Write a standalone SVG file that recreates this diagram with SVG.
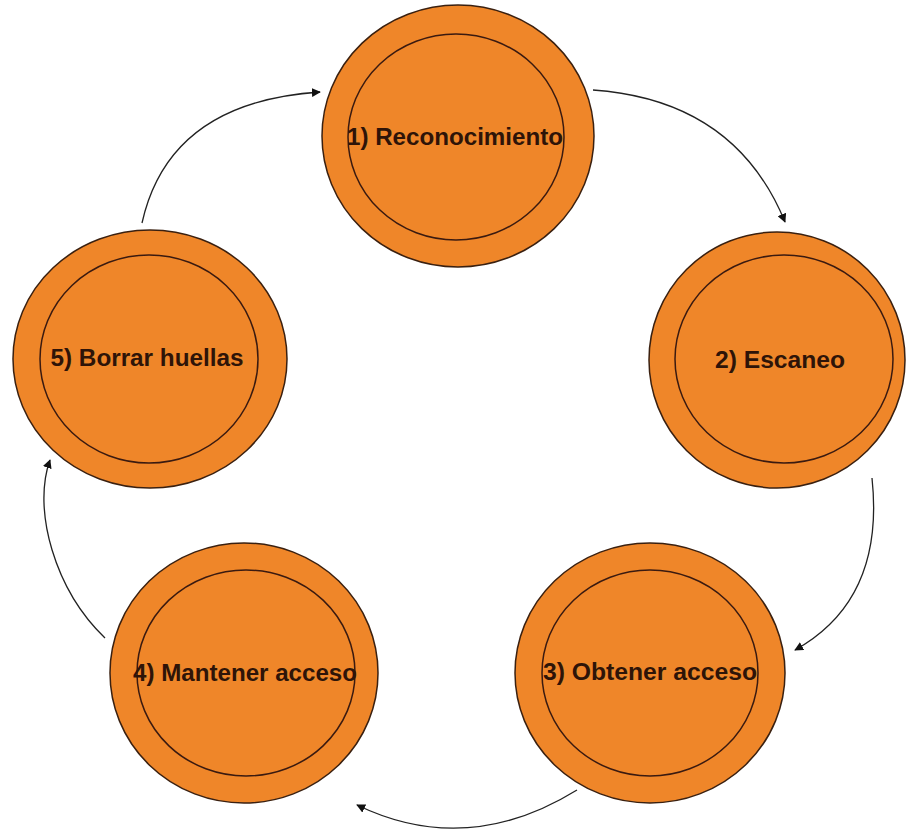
<svg xmlns="http://www.w3.org/2000/svg" width="908" height="833" viewBox="0 0 908 833">
<style>
.outer{fill:#EF8629;stroke:#3a2010;stroke-width:1.5}
.inner{fill:none;stroke:#3a1a10;stroke-width:1.5}
.lbl{font-family:"Liberation Sans",Arial,sans-serif;font-weight:bold;font-size:23px;fill:#2e1408;text-anchor:middle}
.conn{fill:none;stroke:#222;stroke-width:1.3;marker-end:url(#ah)}
</style>
<defs>
<marker id="ah" viewBox="0 0 10 10" refX="9" refY="5" markerWidth="9" markerHeight="9" markerUnits="userSpaceOnUse" orient="auto">
<path d="M0,0 L10,5 L0,10 Z" fill="#111"/>
</marker>
</defs>
<rect width="908" height="833" fill="#fff"/>
<g id="connectors">
<path class="conn" d="M593,90 Q735,100 785,222"/>
<path class="conn" d="M872,478 Q885,600 795,650"/>
<path class="conn" d="M577,790 Q467,858 357,805"/>
<path class="conn" d="M105,638 C55,590 32,510 50,460"/>
<path class="conn" d="M142,223 Q169,102 320,92"/>
</g>
<g id="n1">
<ellipse class="outer" cx="458" cy="136" rx="136" ry="131"/>
<ellipse class="inner" cx="456" cy="137" rx="108" ry="103"/>
<text class="lbl" x="455" y="145" textLength="216" lengthAdjust="spacingAndGlyphs">1) Reconocimiento</text>
</g>
<g id="n2">
<ellipse class="outer" cx="777" cy="360" rx="128" ry="128"/>
<ellipse class="inner" cx="784" cy="359" rx="109" ry="104"/>
<text class="lbl" x="780" y="368" textLength="130" lengthAdjust="spacingAndGlyphs">2) Escaneo</text>
</g>
<g id="n3">
<ellipse class="outer" cx="650" cy="673" rx="135" ry="130"/>
<ellipse class="inner" cx="650" cy="673" rx="108" ry="103"/>
<text class="lbl" x="650" y="680" textLength="214" lengthAdjust="spacingAndGlyphs">3) Obtener acceso</text>
</g>
<g id="n4">
<ellipse class="outer" cx="244" cy="673" rx="134" ry="130"/>
<ellipse class="inner" cx="246" cy="673" rx="109" ry="103"/>
<text class="lbl" x="245" y="681" textLength="224" lengthAdjust="spacingAndGlyphs">4) Mantener acceso</text>
</g>
<g id="n5">
<ellipse class="outer" cx="150" cy="359" rx="137" ry="129"/>
<ellipse class="inner" cx="149" cy="359" rx="109" ry="104"/>
<text class="lbl" x="147" y="366" textLength="193" lengthAdjust="spacingAndGlyphs">5) Borrar huellas</text>
</g>
</svg>
